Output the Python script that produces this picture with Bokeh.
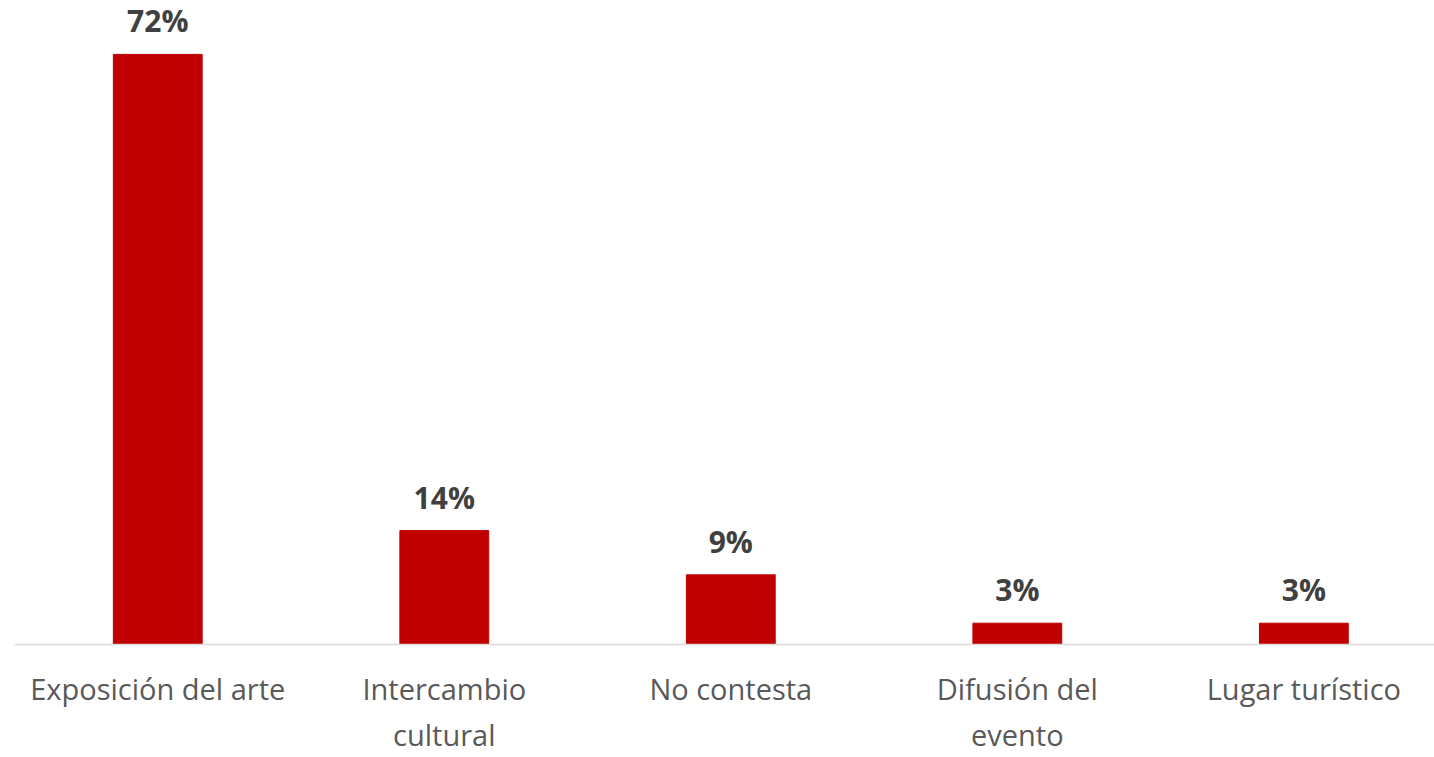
from bokeh.plotting import figure
from bokeh.models import Range1d, FixedTicker, ColumnDataSource, LabelSet
from bokeh.core.properties import value
from bokeh.embed import file_html
from bokeh.resources import INLINE

categories = ["Exposición del arte", "Intercambio\ncultural", "No contesta", "Difusión del\nevento", "Lugar turístico"]
values = [72.0, 13.9, 8.5, 2.6, 2.6]
labels = ["72%", "14%", "9%", "3%", "3%"]

xs = list(range(len(categories)))
src = ColumnDataSource(dict(x=xs, top=values, lab=labels))

p = figure(frame_width=1420, frame_height=636, output_backend="svg", toolbar_location=None,
           x_range=Range1d(-0.5, 4.456), y_range=Range1d(0, 77.6),
           min_border_left=14, min_border_right=0, min_border_top=8, min_border_bottom=0)
p.vbar(x="x", top="top", bottom=0, width=0.31, source=src, color="#C00000")

lbl = LabelSet(x="x", y="top", text="lab", source=src, text_align="center", text_baseline="bottom",
               y_offset=13, text_font=value("Open Sans"), text_font_style="bold", text_font_size="30px",
               text_color="#404040")
p.add_layout(lbl)

p.yaxis.visible = False
p.xgrid.visible = False
p.ygrid.visible = False
p.outline_line_color = None
p.xaxis.ticker = FixedTicker(ticks=xs)
p.xaxis.major_label_overrides = {i: c for i, c in zip(xs, categories)}
p.xaxis.major_tick_line_color = None
p.xaxis.minor_tick_line_color = None
p.xaxis.axis_line_color = "#D9D9D9"
p.xaxis.axis_line_width = 1.5
p.xaxis.major_label_text_font = "Open Sans"
p.xaxis.major_label_text_font_size = "29px"
p.xaxis.major_label_text_color = "#595959"
p.xaxis.major_label_standoff = 18

open("out.html", "w").write(file_html(p, INLINE))
